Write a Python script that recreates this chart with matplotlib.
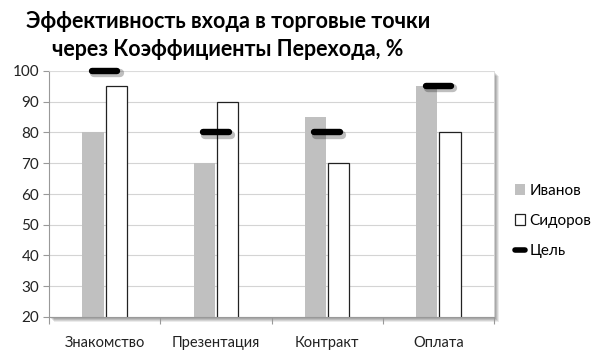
import matplotlib
matplotlib.use("Agg")
import matplotlib.pyplot as plt
import matplotlib.patheffects as pe
from matplotlib.patches import Rectangle
from matplotlib.lines import Line2D
from matplotlib.patches import Patch
import numpy as np

categories = ["Знакомство", "Презентация", "Контракт", "Оплата"]
ivanov = [80, 70, 85, 95]
sidorov = [95, 90, 70, 80]
goal = [100, 80, 80, 95]
yticks = [20, 30, 40, 50, 60, 70, 80, 90, 100]

plt.rcParams['font.family'] = ['Lato', 'DejaVu Sans']

fig = plt.figure(figsize=(6.0, 3.61), dpi=100)
W, H = 600, 361
left, right, top, bottom = 49, 494, 71, 317
ax = fig.add_axes([left / W, 1 - bottom / H, (right - left) / W, (bottom - top) / H])

# soft plot-area shadow
for i, a in enumerate([0.10, 0.10, 0.10, 0.10, 0.08]):
    off = 1 + i
    r = Rectangle(((left + off) / W, 1 - (bottom + off) / H), (right - left) / W, (bottom - top) / H,
                  transform=fig.transFigure, facecolor='black', alpha=a, edgecolor='none', zorder=-5)
    fig.patches.append(r)
ax.set_facecolor('white')

x = np.arange(len(categories)) + 0.5
bw = 0.19
ax.bar(x - bw / 2 - 0.01, ivanov, width=bw, color='#c0c0c0', edgecolor='none', zorder=2)
ax.bar(x + bw / 2 + 0.01, sidorov, width=bw, color='white', edgecolor='#222222', linewidth=0.9, zorder=2)
ax.hlines(goal, x - 0.115, x + 0.115, colors='black', linewidth=4.6, capstyle='round', zorder=4,
          clip_on=False,
          path_effects=[pe.SimpleLineShadow(offset=(1.5, -1.5), alpha=0.25, shadow_color='black',
                                            linewidth=6), pe.Normal()])

ax.set_xlim(0, len(categories))
ax.set_ylim(20, 100)
ax.set_yticks(yticks)
ax.yaxis.grid(True, color='#d4d4d4', linewidth=0.8, zorder=0)
ax.set_axisbelow(True)

ax.set_xticks(np.arange(len(categories) + 1))
ax.set_xticklabels([])
ax.set_xticks(x, minor=True)
ax.set_xticklabels(categories, minor=True, fontsize=10.5, color='#222222')
ax.tick_params(axis='x', which='minor', length=0, pad=14)
ax.tick_params(axis='x', which='major', length=5, color='#999999', direction='out')
ax.tick_params(axis='y', length=4, color='#999999', labelsize=11, labelcolor='#222222', pad=3)
for s in ['left', 'bottom']:
    ax.spines[s].set_color('#999999')
for s in ['top', 'right']:
    ax.spines[s].set_color('#dddddd')
    ax.spines[s].set_linewidth(0.6)

fig.text(228 / W, 1 - 21 / H, "Эффективность входа в торговые точки", ha='center', va='center',
         fontsize=15.5, fontweight='bold', color='black')
fig.text(228 / W, 1 - 50 / H, "через Коэффициенты Перехода, %", ha='center', va='center',
         fontsize=15.5, fontweight='bold', color='black')

handles = [Patch(facecolor='#c0c0c0', edgecolor='none'),
           Patch(facecolor='white', edgecolor='#222222', linewidth=0.9),
           Line2D([0], [0], color='black', linewidth=4, solid_capstyle='round')]
leg = fig.legend(handles, ["Иванов", "Сидоров", "Цель"], loc='center left',
                 bbox_to_anchor=(501 / W, 1 - 221 / H), frameon=False, fontsize=11,
                 handlelength=0.7, handleheight=0.7, handletextpad=0.25, labelspacing=1.05)

fig.savefig("out.png", dpi=100)
